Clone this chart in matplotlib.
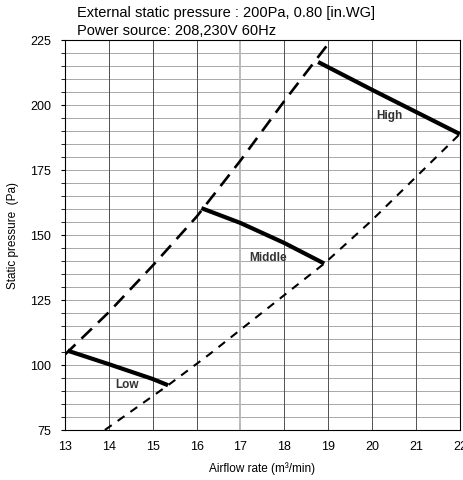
import matplotlib.pyplot as plt
import numpy as np

plt.rcParams['font.family'] = ['Liberation Sans', 'DejaVu Sans']

# fan curves (airflow m3/min, static pressure Pa)
low_x = [13.06, 14.0, 15.0, 15.35]
low_y = [105.5, 100.3, 94.6, 92.2]
mid_x = [16.11, 17.0, 18.0, 18.91]
mid_y = [160.3, 154.6, 146.9, 139.0]
high_x = [18.77, 20.0, 21.0, 22.0]
high_y = [216.5, 205.8, 197.3, 188.8]

# system curves
upper_x = [13.0, 14.0, 15.0, 16.0, 17.0, 18.0, 19.07]
upper_y = [104.0, 120.3, 138.2, 157.0, 178.6, 201.5, 225.0]
lower_x = [13.91, 15.35, 16.3, 18.91, 19.95, 22.0]
lower_y = [75.0, 92.2, 104.2, 139.0, 154.9, 188.8]

labels = ['Low', 'Middle', 'High']
label_x = [14.41, 17.62, 20.39]
label_y = [92.5, 141.4, 196.2]

fig = plt.figure(figsize=(4.64, 4.81), dpi=100)
ax = fig.add_axes([0.140, 0.104, 0.851, 0.811])

# grid
for y in np.arange(75, 226, 5):
    ax.axhline(y, color='#9a9a9a', linewidth=0.6, zorder=1)
for x in np.arange(13, 23, 1):
    if x == 17:
        ax.axvline(x, color='#b4b4b4', linewidth=1.3, zorder=1)
    else:
        ax.axvline(x, color='#505050', linewidth=0.7, zorder=1)

ax.plot(upper_x, upper_y, color='black', linewidth=1.9, dashes=(5.5, 3.2), zorder=3)
ax.plot(lower_x, lower_y, color='black', linewidth=1.5, dashes=(4, 3.5), zorder=3)
for xs, ys in [(low_x, low_y), (mid_x, mid_y), (high_x, high_y)]:
    ax.plot(xs, ys, color='black', linewidth=3, solid_capstyle='butt',
            solid_joinstyle='round', zorder=4)

for t, x, y in zip(labels, label_x, label_y):
    ax.text(x, y, t, fontsize=8.5, fontweight='bold', ha='center', va='center', color='#333333')

ax.set_xlim(13, 22)
ax.set_ylim(75, 225)
ax.set_xticks(np.arange(13, 23, 1))
ax.set_yticks(np.arange(75, 226, 25))
ax.set_yticks(np.arange(75, 226, 5), minor=True)
ax.tick_params(axis='x', length=0, labelsize=9, pad=7)
ax.tick_params(axis='y', which='major', length=3, labelsize=9, pad=7)
ax.tick_params(axis='y', which='minor', length=3)
for s in ax.spines.values():
    s.set_linewidth(0.8)

ax.set_xlabel('Airflow rate (m³/min)', fontsize=8.5, labelpad=7)
ax.set_ylabel('Static pressure  (Pa)', fontsize=8.5, labelpad=8)

fig.text(0.166, 0.972, 'External static pressure : 200Pa, 0.80 [in.WG]', fontsize=10.5, va='center')
fig.text(0.166, 0.935, 'Power source: 208,230V 60Hz', fontsize=10.5, va='center')

fig.savefig('out.png', dpi=100)
